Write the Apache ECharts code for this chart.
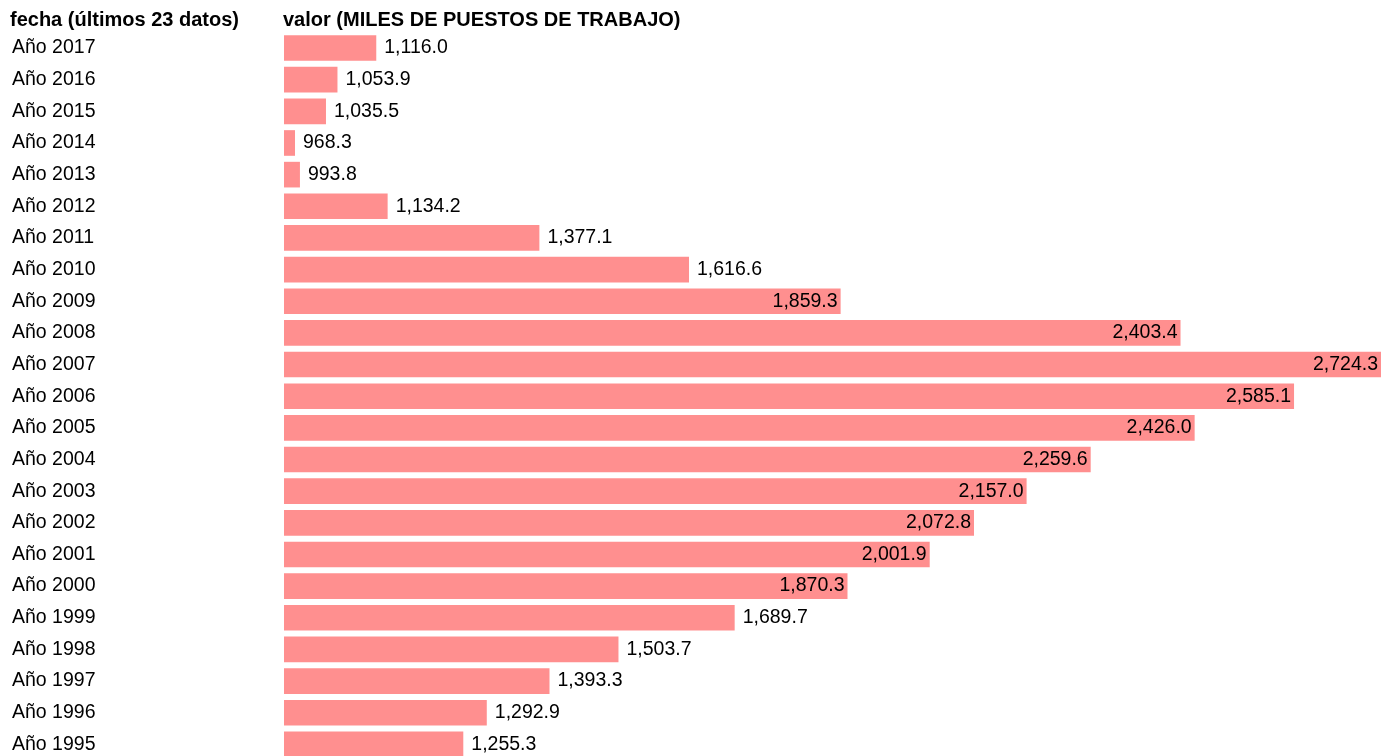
<!DOCTYPE html>
<html><head><meta charset="utf-8">
<script src="https://cdn.jsdelivr.net/npm/echarts@6/dist/echarts.min.js"></script>
<style>html,body{margin:0;padding:0;background:#fff}#c{width:1393px;height:756px}</style>
</head><body><div id="c"></div>
<script>
const categories = ["Año 2017","Año 2016","Año 2015","Año 2014","Año 2013","Año 2012","Año 2011","Año 2010","Año 2009","Año 2008","Año 2007","Año 2006","Año 2005","Año 2004","Año 2003","Año 2002","Año 2001","Año 2000","Año 1999","Año 1998","Año 1997","Año 1996","Año 1995"];
const values = [1116.0,1053.9,1035.5,968.3,993.8,1134.2,1377.1,1616.6,1859.3,2403.4,2724.3,2585.1,2426.0,2259.6,2157.0,2072.8,2001.9,1870.3,1689.7,1503.7,1393.3,1292.9,1255.3];
const headerLeft = "fecha (últimos 23 datos)";
const headerRight = "valor (MILES DE PUESTOS DE TRABAJO)";

const FONT = "Liberation Sans, Arial, sans-serif";
const fmt = v => v.toLocaleString('en-US',{minimumFractionDigits:1,maximumFractionDigits:1});
const vmin = Math.min(...values), vmax = Math.max(...values);
const MIN_BAR = 11;

const chart = echarts.init(document.getElementById('c'), null, {renderer:'canvas'});
chart.setOption({
  animation:false,
  backgroundColor:'#fff',
  title:[
    {text:headerLeft,left:10,top:10,padding:0,textStyle:{fontFamily:FONT,fontSize:20,fontWeight:'bold',color:'#000',lineHeight:20}},
    {text:headerRight,left:283,top:10,padding:0,textStyle:{fontFamily:FONT,fontSize:20,fontWeight:'bold',color:'#000',lineHeight:20}}
  ],
  grid:{left:284,right:12,top:32.2,height:728,containLabel:false,outerBoundsMode:'none'},
  xAxis:{type:'value',min:vmin,max:vmax,show:false},
  yAxis:{type:'category',data:categories,inverse:true,
    axisLine:{show:false},axisTick:{show:false},splitLine:{show:false},
    axisLabel:{align:'left',margin:272,fontFamily:FONT,fontSize:19.5,color:'#000'}},
  series:[{
    type:'custom',
    encode:{x:0,y:1},
    data:values.map((v,i)=>[v,i]),
    renderItem:function(params, api){
      const v = api.value(0), idx = api.value(1);
      const start = api.coord([vmin, idx]);
      const end = api.coord([v, idx]);
      const band = api.size([0,1])[1];
      const h = band*0.81;
      const w = Math.max(end[0]-start[0], MIN_BAR);
      const inside = v > 1750;
      return {
        type:'rect',
        shape:{x:start[0], y:start[1]-h/2, width:w, height:h},
        style:{fill:'#ff8f8f'},
        textContent:{type:'text',style:{text:fmt(v),fill:'#000',fontFamily:FONT,fontSize:19.5}},
        textConfig:{position: inside?'insideRight':'right', distance: inside?3:8}
      };
    }
  }]
});
</script></body></html>
